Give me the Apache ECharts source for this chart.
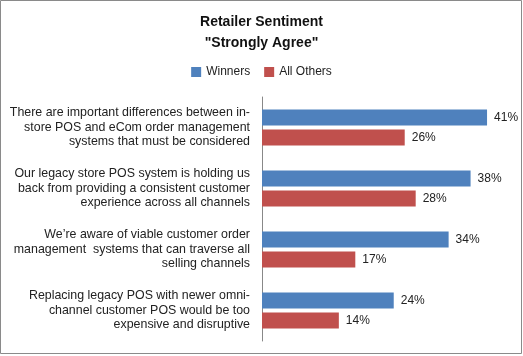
<!DOCTYPE html>
<html><head><meta charset="utf-8">
<script src="https://cdn.jsdelivr.net/npm/echarts@6/dist/echarts.min.js"></script>
<style>html,body{margin:0;padding:0;background:#fff}#c{width:523px;height:356px}</style>
</head><body><div id="c"></div>
<script>
const categories = [
  "There are important differences between in-\nstore POS and eCom order management\nsystems that must be considered",
  "Our legacy store POS system is holding us\nback from providing a consistent customer\nexperience across all channels",
  "We\u2019re aware of viable customer order\nmanagement  systems that can traverse all\nselling channels",
  "Replacing legacy POS with newer omni-\nchannel customer POS would be too\nexpensive and disruptive"
];
const winners = [41, 38, 34, 24];
const allOthers = [26, 28, 17, 14];
const seriesNames = ["Winners", "All Others"];

const chart = echarts.init(document.getElementById('c'));
const font = "'Liberation Sans', Arial, sans-serif";
const lbl = {show: true, position: 'right', distance: 7, formatter: p => p.value + '%', color: '#222', fontSize: 12, fontFamily: font};
chart.setOption({
  animation: false,
  textStyle: {fontFamily: font},
  title: {
    text: 'Retailer Sentiment\n"Strongly Agree"',
    left: 'center', top: 7,
    textStyle: {fontSize: 14, fontWeight: 'bold', color: '#111', lineHeight: 21, fontFamily: font}
  },
  legend: {
    top: 61, left: 'center', itemWidth: 10, itemHeight: 10, itemGap: 14,
    icon: 'rect',
    textStyle: {fontSize: 12, color: '#222', fontFamily: font},
    data: seriesNames
  },
  graphic: [{type: 'rect', shape: {x: 0.5, y: 0.5, width: 521, height: 353}, style: {fill: 'none', stroke: '#8a8a8a', lineWidth: 1}, silent: true}],
  grid: {left: 262, right: 14, top: 97, bottom: 15, containLabel: false},
  xAxis: {type: 'value', min: 0, max: 45, show: false, splitLine: {show: false}},
  yAxis: {
    type: 'category', inverse: true, data: categories,
    axisLine: {show: true, lineStyle: {color: '#888'}},
    axisTick: {show: false},
    axisLabel: {fontSize: 12.4, color: '#222', lineHeight: 14.5, margin: 12, align: 'right', fontFamily: font}
  },
  series: [
    {name: seriesNames[0], type: 'bar', data: winners, itemStyle: {color: '#4F81BD'}, barWidth: 16, barGap: '25%', label: lbl},
    {name: seriesNames[1], type: 'bar', data: allOthers, itemStyle: {color: '#C0504D'}, barWidth: 16, label: lbl}
  ]
});
</script></body></html>
